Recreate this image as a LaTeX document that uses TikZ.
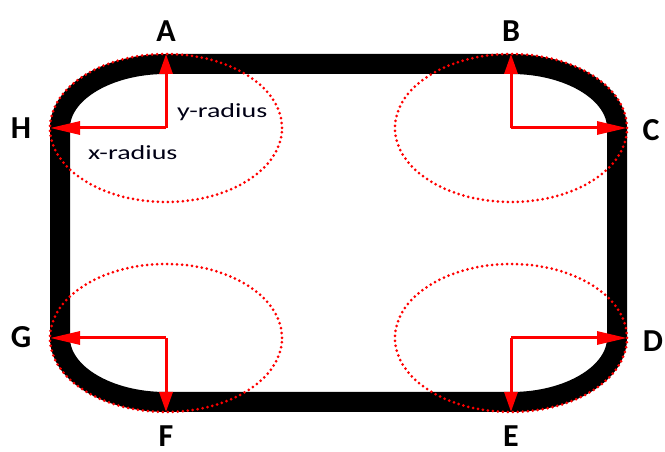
\documentclass[tikz,border=0pt]{standalone}
\usepackage{fontspec}
\usepackage{graphicx}
\setmainfont{Carlito}
\usetikzlibrary{arrows.meta}
\begin{document}
\begin{tikzpicture}[x=1pt,y=1pt,
  band/.style={line width=20pt, black},
  guide/.style={red, line width=3pt, dash pattern=on 0pt off 5pt, line cap=round},
  radh/.style={red, line width=3pt, -{Triangle[length=30pt,width=13pt]}},
  radv/.style={red, line width=3pt, -{Triangle[length=20pt,width=13pt]}},
  lbl/.style={font=\bfseries\fontsize{32}{36}\selectfont, inner sep=0pt},
  rtxt/.style={font=\fontsize{20}{24}\selectfont, inner sep=0pt, text=black!92!blue}]
\useasboundingbox (0,0) rectangle (665,452);
% centres and end points
\coordinate (cTL) at (166,324);
\coordinate (cTR) at (511,324);
\coordinate (cBL) at (166,114);
\coordinate (cBR) at (511,114);
\coordinate (pA) at (166,398);
\coordinate (pH) at (50,324);
\coordinate (pB) at (511,398);
\coordinate (pC) at (627,324);
\coordinate (pD) at (627,114);
\coordinate (pE) at (511,40);
\coordinate (pF) at (166,40);
\coordinate (pG) at (50,114);
% thick rounded frame
\draw[band] (166,388) -- (511,388)
  arc[start angle=90, end angle=0, x radius=106pt, y radius=64pt]
  -- (617,114)
  arc[start angle=0, end angle=-90, x radius=106pt, y radius=64pt]
  -- (166,50)
  arc[start angle=270, end angle=180, x radius=106pt, y radius=64pt]
  -- (60,324)
  arc[start angle=180, end angle=90, x radius=106pt, y radius=64pt]
  -- cycle;
% dotted ellipses
\draw[guide] (cTL) ellipse [x radius=116pt, y radius=74pt];
\draw[guide] (cTR) ellipse [x radius=116pt, y radius=74pt];
\draw[guide] (cBL) ellipse [x radius=116pt, y radius=74pt];
\draw[guide] (cBR) ellipse [x radius=116pt, y radius=74pt];
% radius arrows
\draw[radv] (cTL) -- (pA);
\draw[radh] (cTL) -- (pH);
\draw[radv] (cTR) -- (pB);
\draw[radh] (cTR) -- (pC);
\draw[radh] (cBR) -- (pD);
\draw[radv] (cBR) -- (pE);
\draw[radv] (cBL) -- (pF);
\draw[radh] (cBL) -- (pG);
% labels
\node[lbl] (A) at (166,421) {A};
\node[lbl] (B) at (511,421) {B};
\node[lbl] (C) at (651,322) {C};
\node[lbl] (D) at (653,111) {D};
\node[lbl] (E) at (511,16) {E};
\node[lbl] (F) at (166,16) {F};
\node[lbl] (G) at (21,115) {G};
\node[lbl] (H) at (21,324) {H};
\node[rtxt, anchor=base west] (yr) at (177,334) {\scalebox{1.4}[1]{y-radius}};
\node[rtxt, anchor=base west] (xr) at (88,292) {\scalebox{1.4}[1]{x-radius}};
\end{tikzpicture}
\end{document}
